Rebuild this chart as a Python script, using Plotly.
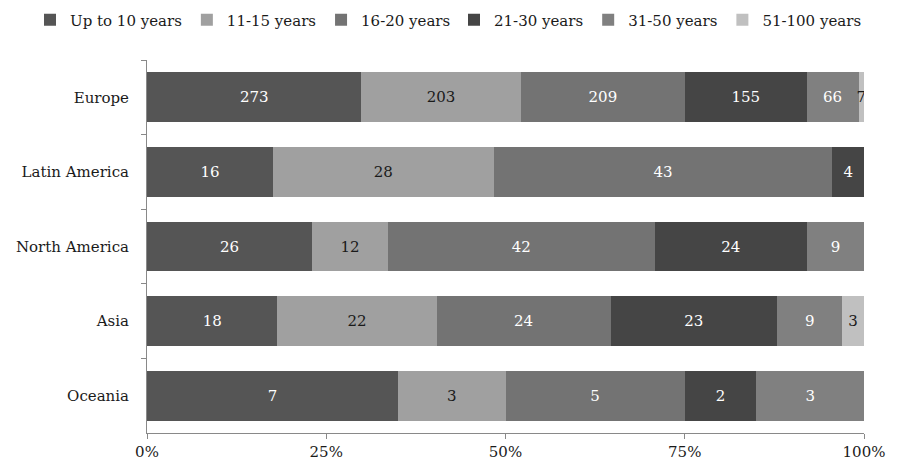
import plotly.graph_objects as go

regions = ["Europe", "Latin America", "North America", "Asia", "Oceania"]
series_names = ["Up to 10 years", "11-15 years", "16-20 years", "21-30 years", "31-50 years", "51-100 years"]
up_to_10 = [273, 16, 26, 18, 7]
y11_15 = [203, 28, 12, 22, 3]
y16_20 = [209, 43, 42, 24, 5]
y21_30 = [155, 4, 24, 23, 2]
y31_50 = [66, None, 9, 9, 3]
y51_100 = [7, None, None, 3, None]
x_ticks = [0, 25, 50, 75, 100]
x_tick_labels = ["0%", "25%", "50%", "75%", "100%"]

values = [up_to_10, y11_15, y16_20, y21_30, y31_50, y51_100]
colors = ["#555555", "#a0a0a0", "#737373", "#454545", "#808080", "#c0c0c0"]
text_colors = ["white", "#1a1a1a", "white", "white", "white", "#1a1a1a"]
legend_ids = ["legend", "legend", "legend", "legend2", "legend2", "legend2"]

FONT = "DejaVu Serif"

fig = go.Figure()
for name, vals, col, tcol, lg in zip(series_names, values, colors, text_colors, legend_ids):
    fig.add_trace(go.Bar(
        y=regions, x=vals, name=name, orientation="h",
        marker=dict(color=col, line=dict(width=0)),
        text=[("" if v is None else str(v)) for v in vals],
        textposition="inside", insidetextanchor="middle",
        textfont=dict(color=tcol, size=15, family=FONT),
        constraintext="none",
        hoverinfo="skip",
        legend=lg,
    ))

legend_common = dict(orientation="h", xref="container", yref="container",
                     yanchor="middle", xanchor="left",
                     font=dict(size=15, family=FONT, color="#1a1a1a"),
                     itemwidth=30, traceorder="normal", bgcolor="rgba(0,0,0,0)")

fig.update_layout(
    barmode="stack", barnorm="percent", bargap=0.33,
    width=903, height=474,
    margin=dict(l=139, r=47, t=52, b=49, autoexpand=False),
    paper_bgcolor="white", plot_bgcolor="white",
    font=dict(family=FONT, size=15, color="#1a1a1a"),
    legend=dict(x=22 / 903, y=1 - 12 / 474, **legend_common),
    legend2=dict(x=446 / 903, y=1 - 12 / 474, **legend_common),
    showlegend=True,
)
fig.update_xaxes(range=[0, 100], tickvals=x_ticks, ticktext=x_tick_labels,
                 showgrid=False, zeroline=False, showline=True,
                 linecolor="#898989", linewidth=1, ticks="outside",
                 ticklen=5, tickcolor="#898989",
                 tickfont=dict(size=15, family=FONT, color="#1a1a1a"))
fig.update_yaxes(autorange="reversed", showgrid=False, showline=True,
                 linecolor="#898989", linewidth=1, ticks="outside",
                 tickson="boundaries", ticklen=5, tickcolor="#898989",
                 ticklabelstandoff=14,
                 tickfont=dict(size=15, family=FONT, color="#1a1a1a"))

fig.write_html("out.html")
